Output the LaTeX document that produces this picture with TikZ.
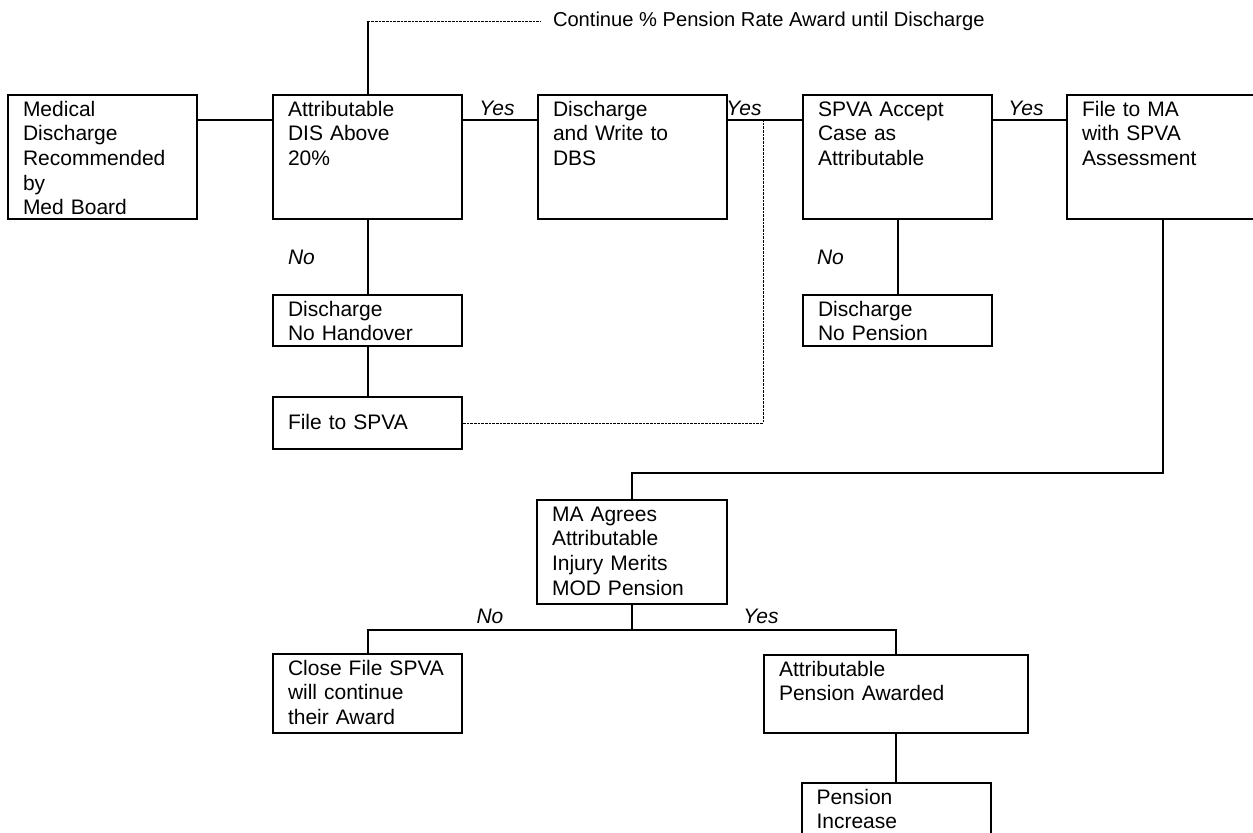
\documentclass[tikz,border=0pt]{standalone}
\usepackage{fontspec}
\setmainfont{Liberation Sans}
\newcommand{\flowfont}{\fontsize{15.75pt}{18.5pt}\selectfont}
\newcommand{\notefont}{\fontsize{15.1pt}{18pt}\selectfont}

\tikzset{every picture/.style={line width=1.5pt}}
\tikzset{
  stage/.style={draw, anchor=north west, align=left, inner xsep=11.25pt, inner ysep=3pt,
    text height=12.95pt, text width=119.25pt, font=\flowfont},
  answer/.style={font=\flowfont\itshape, inner sep=0pt},
  dotline/.style={line width=0.75pt, dash pattern=on 2pt off 0.75pt},
}

\begin{document}
\begin{tikzpicture}[x=0.75pt,y=0.75pt,yscale=-1,xscale=1]
\clip (0,0) rectangle (1253,832);

%Top row
\node[stage, text depth=74.05pt] (med) at (7,94) {Medical\\Discharge\\Recommended\\by\\Med Board};
\node[stage, text depth=74.05pt] (dis) at (272,94) {Attributable\\DIS Above\\20\%};
\node[stage, text depth=74.05pt] (dbs) at (537,94) {Discharge\\and Write to\\DBS};
\node[stage, text depth=74.05pt] (spva) at (802,94) {SPVA Accept\\Case as\\Attributable};
\node[stage, text depth=74.05pt, text width=121.5pt] (ma) at (1066,94) {File to MA\\with SPVA\\Assessment};

%No branches
\node[stage, text depth=19.3pt] (hand) at (272,294) {Discharge\\No Handover};
\node[stage, text height=21.4pt, text depth=11.6pt] (file) at (272,396) {File to SPVA};
\node[stage, text depth=19.3pt] (nopen) at (802,294) {Discharge\\No Pension};

%MA decision
\node[stage, text depth=59.05pt, text width=120pt] (agree) at (536,499) {MA Agrees\\Attributable\\Injury Merits\\MOD Pension};
\node[stage, text depth=40.3pt] (close) at (272,653) {Close File SPVA\\will continue\\their Award};
\node[stage, text depth=39.55pt, text width=175.5pt] (award) at (763,654) {Attributable\\Pension Awarded};
\node[stage, text depth=21.55pt] (incr) at (800.5,782) {Pension\\Increase};

%Note at top
\node[font=\notefont, anchor=west, inner xsep=9pt, inner ysep=0pt] (cont) at (540,21) {Continue \% Pension Rate Award until Discharge};

%Junctions
\coordinate (jt) at (763,120);
\path (agree.north) ++(0,-26) coordinate (mt);
\path (agree.south) ++(0,25) coordinate (mj);

%Straight Lines
\draw (med.east |- jt) -- (dis.west |- jt);
\draw (dis.east |- jt) -- (dbs.west |- jt);
\draw (dbs.east |- jt) -- (spva.west |- jt);
\draw (spva.east |- jt) -- (ma.west |- jt);
\draw (dis.south) -- (hand.north);
\draw (hand.south) -- (file.north);
\draw (spva.south) -- (nopen.north);
\draw (ma.south) |- (mt) -- (agree.north);
\draw (agree.south) -- (mj);
\draw (close.north) |- (mj) -| (award.north);
\draw (award.south) -- (incr.north);
\draw (dis.north) -- (dis.north |- cont.west);

%Dotted Lines
\draw[dotline] (dis.north |- cont.west) -- (cont.west);
\draw[dotline] (file.east) -| (jt);

%Yes / No
\node[answer] (yes1) at (497,108) {Yes};
\node[answer] (yes2) at (744,108) {Yes};
\node[answer] (yes3) at (1026,108) {Yes};
\node[answer, anchor=west] (no1) at (287,257) {No};
\node[answer, anchor=west] (no2) at (816,257) {No};
\node[answer] (no3) at (490,616) {No};
\node[answer] (yes4) at (761,616) {Yes};

\end{tikzpicture}
\end{document}
